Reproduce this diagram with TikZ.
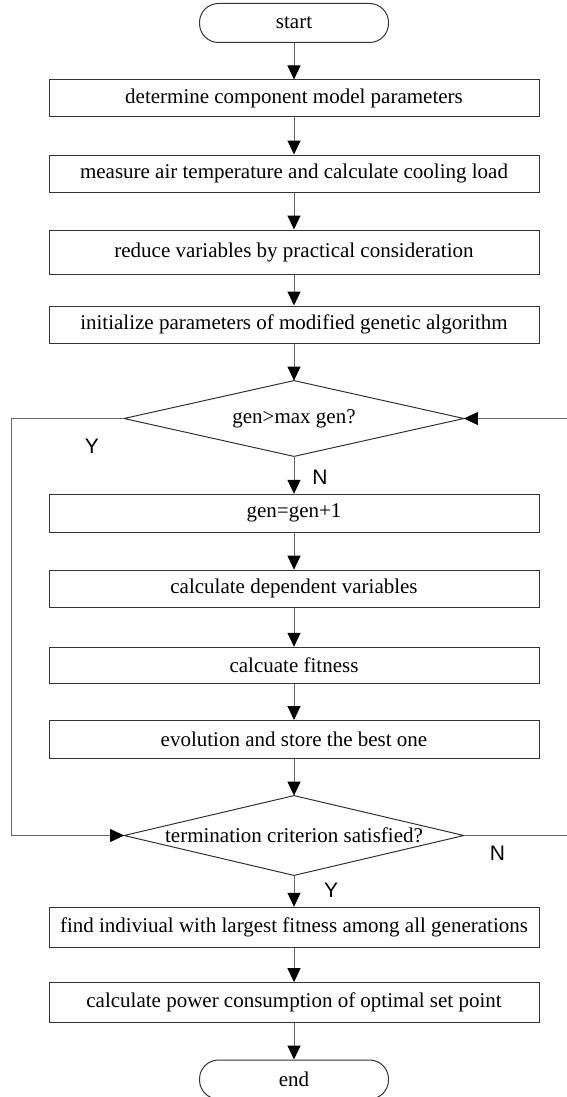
\documentclass[tikz,border=0pt]{standalone}
\usepackage{fontspec}
\setmainfont{Liberation Serif}
\newfontfamily\labelfont{Liberation Sans}
\usetikzlibrary{arrows.meta}

\begin{document}
\begin{tikzpicture}[x=0.5pt, y=-0.5pt,
  every node/.style={font=\fontsize{10.5}{12}\selectfont},
  process/.style={draw=black!80, line width=0.5pt, minimum width=245pt, minimum height=18.5pt, inner sep=0pt},
  terminal/.style={draw=black!80, line width=0.5pt, rounded corners=9.5pt, minimum width=94.5pt, minimum height=19.5pt, inner sep=0pt},
  decision/.style={minimum width=169.5pt, inner sep=0pt},
  flow/.style={draw=black!60, line width=0.5pt, -{Triangle[length=7pt, width=6.5pt, black]}},
  yn/.style={font=\labelfont\fontsize{10.5}{12}\selectfont}]
  \useasboundingbox (0,0) rectangle (567,1097);
  \clip (0,0) rectangle (567,1097);

  % Main column
  \node[terminal] (start) at (294,23) {start};
  \node[process] (params) at (294,98.5) {determine component model parameters};
  \node[process] (load) at (294,173.5) {measure air temperature and calculate cooling load};
  \node[process, minimum height=22pt] (reduce) at (294,252) {reduce variables by practical consideration};
  \node[process] (init) at (294,324.5) {initialize parameters of modified genetic algorithm};
  \node[decision, minimum height=37.5pt] (maxgen) at (294,418.5) {gen>max gen?};
  \node[process, minimum height=19pt] (incr) at (294,513.3) {gen=gen+1};
  \node[process] (dep) at (294,588.7) {calculate dependent variables};
  \node[process, minimum height=18pt] (fit) at (294,665.3) {calcuate fitness};
  \node[process, minimum height=19pt] (evol) at (294,739.5) {evolution and store the best one};
  \node[decision, minimum height=39.5pt] (stop) at (294,835.5) {termination criterion satisfied?};
  \node[process, minimum height=20pt] (best) at (294,927.3) {find indiviual with largest fitness among all generations};
  \node[process, minimum height=20pt] (power) at (294,1002.7) {calculate power consumption of optimal set point};
  \node[terminal] (end) at (294,1079.5) {end};

  % Diamonds around the two tests
  \foreach \d in {maxgen, stop}
    \draw[black!80, line width=0.5pt] (\d.north) -- (\d.east) -- (\d.south) -- (\d.west) -- cycle;

  % Straight flow
  \foreach \a/\b in {start/params, params/load, load/reduce, reduce/init, init/maxgen,
                     maxgen/incr, incr/dep, dep/fit, fit/evol, evol/stop,
                     stop/best, best/power, power/end}
    \draw[flow] (\a.south) -- (\b.north);

  % Side loops
  \coordinate (lft) at (11,0);
  \coordinate (rgt) at (575,0);
  \draw[flow] (maxgen.west) -- (maxgen.west -| lft) -- (stop.west -| lft) -- (stop.west);
  \draw[flow] (stop.east) -- (stop.east -| rgt) -- (maxgen.east -| rgt) -- (maxgen.east);

  % Branch labels
  \node[yn] (ylab1) at (92,446) {Y};
  \node[yn] (nlab1) at (320,477) {N};
  \node[yn] (nlab2) at (497.5,853.5) {N};
  \node[yn] (ylab2) at (331,890) {Y};
\end{tikzpicture}
\end{document}
